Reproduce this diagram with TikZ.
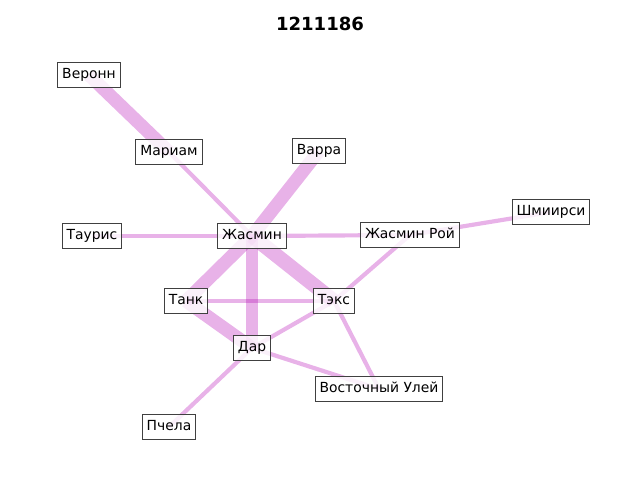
\documentclass[tikz,border=0pt]{standalone}
\usepackage{fontspec}
\setmainfont{DejaVu Sans}
\usetikzlibrary{backgrounds}
\begin{document}
\begin{tikzpicture}[x=0.72pt, y=-0.72pt]

    \tikzstyle{box} = [rectangle, draw=black!75, line width=0.8pt, fill=white,
                       fill opacity=0.8, text opacity=1, font=\fontsize{10}{12}\selectfont,
                       inner xsep=3.2pt, inner ysep=4pt, text height=7.6pt, text depth=2.4pt]
    \tikzstyle{link} = [draw=violet!60!magenta, draw opacity=0.3, line width=3pt]
    \tikzstyle{heavy} = [link, line width=9.5pt]

    \useasboundingbox (0,0) rectangle (640,480);

    % Title
    \node[font=\fontsize{13}{15}\selectfont\bfseries] (title) at (320,24) {1211186};

    % Nodes
    \node[box] (veronn) at (89,75) {Веронн};
    \node[box] (mariam) at (169,152) {Мариам};
    \node[box] (varra) at (319,151) {Варра};
    \node[box] (tauris) at (92,236) {Таурис};
    \node[box] (jasmin) at (252,236) {Жасмин};
    \node[box] (jroy) at (410,235) {Жасмин Рой};
    \node[box] (shmiirsi) at (551,212) {Шмиирси};
    \node[box] (tank) at (186,301) {Танк};
    \node[box] (teks) at (334,301) {Тэкс};
    \node[box] (dar) at (252,348) {Дар};
    \node[box] (ulei) at (379,389) {Восточный Улей};
    \node[box] (pchela) at (169,427) {Пчела};

    % Edges
    \begin{scope}[on background layer]
    \path[heavy] (veronn.center) -- (mariam.center);
    \path[link] (mariam.center) -- (jasmin.center);
    \path[heavy] (varra.center) -- (jasmin.center);
    \path[heavy] (jasmin.center) -- (tank.center);
    \path[heavy, line width=10.5pt] (jasmin.center) -- (teks.center);
    \path[heavy, line width=9pt] (jasmin.center) -- (dar.center);
    \path[heavy] (tank.center) -- (dar.center);
    \path[link] (tauris.center) -- (jasmin.center);
    \path[link] (jasmin.center) -- (jroy.center);
    \path[link] (jroy.center) -- (shmiirsi.center);
    \path[link] (tank.center) -- (teks.center);
    \path[link] (teks.center) -- (dar.center);
    \path[link] (teks.center) -- (jroy.center);
    \path[link] (teks.center) -- (ulei.center);
    \path[link] (dar.center) -- (ulei.center);
    \path[link] (dar.center) -- (pchela.center);
    \end{scope}

\end{tikzpicture}
\end{document}
